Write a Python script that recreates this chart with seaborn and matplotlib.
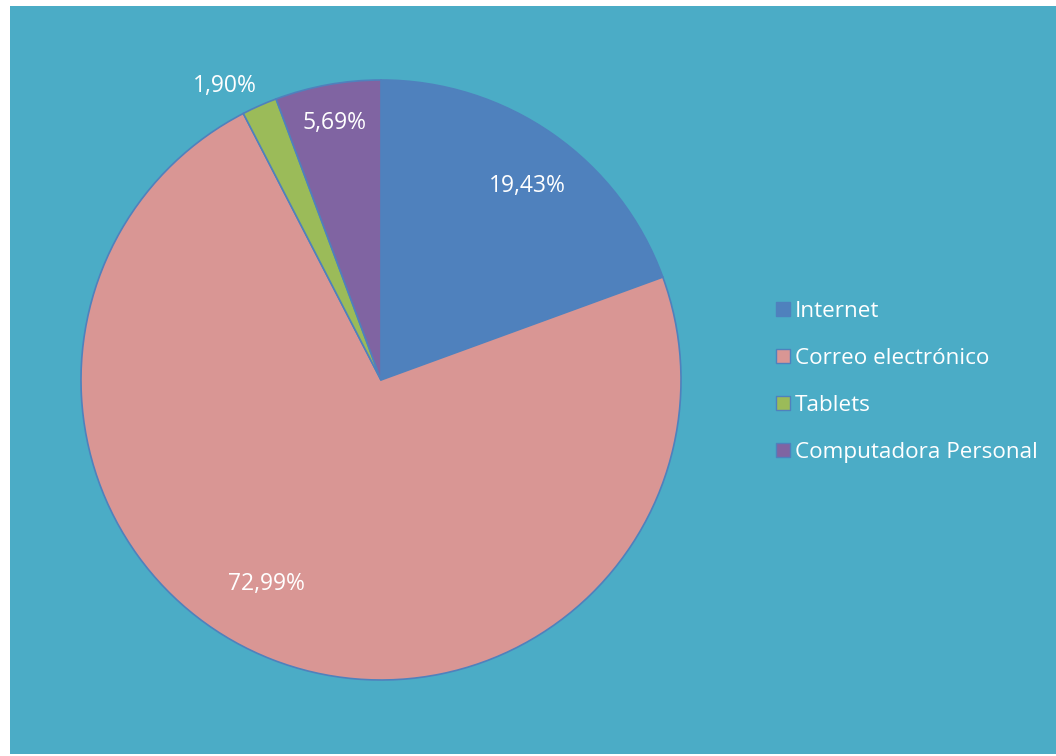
import numpy as np
import matplotlib
matplotlib.use("Agg")
import matplotlib.pyplot as plt
import seaborn as sns
from matplotlib.patches import Rectangle, Patch

# ── Data ──────────────────────────────────────────────────────────────────────
categories = ["Internet", "Correo electrónico", "Tablets", "Computadora Personal"]
shares = [19.43, 72.99, 1.90, 5.69]
pct_labels = ["19,43%", "72,99%", "1,90%", "5,69%"]

colors = ["#4F81BD", "#D99694", "#9BBB59", "#8064A2"]
bg = "#4BACC6"
edge = "#4F81BD"

sns.set_theme(style="white")
plt.rcParams["font.family"] = ["Open Sans", "DejaVu Sans"]

fig = plt.figure(figsize=(10.56, 7.56), dpi=100, facecolor="white")
# teal chart area with a thin white margin like the original
fig.patches.append(Rectangle((10 / 1056, 2 / 756), 1 - 10 / 1056, 1 - 8 / 756,
                             transform=fig.transFigure, facecolor=bg,
                             edgecolor="none", zorder=-5))

ax = fig.add_axes([81 / 1056, 76 / 756, 600 / 1056, 600 / 756])
ax.set_facecolor("none")

wedges, _ = ax.pie(
    shares,
    colors=colors,
    startangle=90,
    counterclock=False,
    radius=1,
    wedgeprops=dict(edgecolor=edge, linewidth=1.2),
)
ax.set_xlim(-1, 1)
ax.set_ylim(-1, 1)
ax.set_aspect("equal")
ax.axis("off")

# ── Percentage labels (Excel "best fit" placement) ───────────────────────────
label_dist = [0.81, 0.78, 1.11, 0.87]
angle_shift = [-2, -8, 4, 0]
for w, txt, d, da in zip(wedges, pct_labels, label_dist, angle_shift):
    mid = np.deg2rad((w.theta1 + w.theta2) / 2 + da)
    ax.text(d * np.cos(mid), d * np.sin(mid), txt, ha="center", va="center",
            color="white", fontsize=16.5, clip_on=False)

# ── Legend ───────────────────────────────────────────────────────────────────
handles = [Patch(facecolor=c, edgecolor=edge, linewidth=1) for c in colors]
fig.legend(handles, categories, loc="center left",
           bbox_to_anchor=(767 / 1056, 1 - 382 / 756),
           frameon=False, fontsize=16.2, labelcolor="white",
           handlelength=0.6, handleheight=0.6, handletextpad=0.25,
           labelspacing=1.15, borderaxespad=0)

fig.savefig("out.png", dpi=100, facecolor="white")
